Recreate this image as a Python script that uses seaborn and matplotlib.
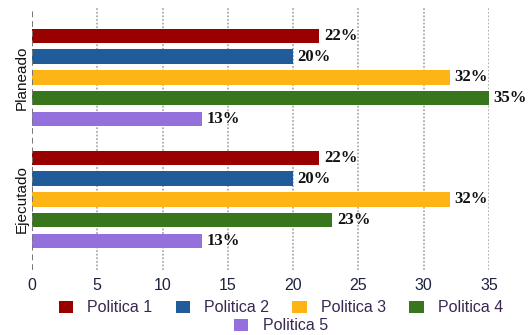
import matplotlib
matplotlib.use("Agg")
import matplotlib.pyplot as plt
from matplotlib.patches import Patch
import seaborn as sns
import pandas as pd

grupos = ["Planeado", "Ejecutado"]
politicas = ["Politica 1", "Politica 2", "Politica 3", "Politica 4", "Politica 5"]
planeado = [22, 20, 32, 35, 13]
ejecutado = [22, 20, 32, 23, 13]
colores = ["#990000", "#1f5c99", "#fdb515", "#38761d", "#9370db"]
x_ticks = [0, 5, 10, 15, 20, 25, 30, 35]

rows = []
for g, vals in zip(grupos, [planeado, ejecutado]):
    for p, v in zip(politicas, vals):
        rows.append({"grupo": g, "politica": p, "valor": v})
df = pd.DataFrame(rows)

sns.set_theme(style="white")
plt.rcParams["font.family"] = ["Liberation Sans", "DejaVu Sans"]

fig = plt.figure(figsize=(5.28, 3.35), dpi=100)
ax = fig.add_axes([32 / 528, 1 - 270 / 335, 457 / 528, 262 / 335])

sns.barplot(data=df, y="grupo", x="valor", hue="politica", order=grupos,
            hue_order=politicas, palette=colores, orient="h", width=0.85,
            gap=0.3, dodge=True, legend=False, ax=ax, errorbar=None,
            edgecolor="none", saturation=1)

ax.set_xlim(0, 35)
ax.set_ylim(1.58, -0.57)
ax.set_xticks(x_ticks)
ax.set_xticklabels([str(t) for t in x_ticks], fontsize=11.5, color="#1c2240")
ax.tick_params(axis="x", length=0, pad=6)
ax.tick_params(axis="y", length=0, pad=2)
for lab in ax.get_yticklabels():
    lab.set_rotation(90)
    lab.set_va("center")
    lab.set_fontsize(11)
    lab.set_color("#111111")
ax.set_xlabel("")
ax.set_ylabel("")
for s in ax.spines.values():
    s.set_visible(False)

for t in x_ticks[1:]:
    ax.axvline(t, color="#adadad", linestyle=(0, (1, 1)), linewidth=1.3, zorder=0)
ax.axvline(0, color="#777777", linestyle=(0, (3, 2)), linewidth=1.4, zorder=3)

for cont in ax.containers:
    for bar in cont:
        w = bar.get_width()
        ax.text(w + 0.35, bar.get_y() + bar.get_height() / 2, f"{w:.0f}%",
                ha="left", va="center", fontsize=12, fontweight="bold",
                family=["Liberation Serif", "DejaVu Serif"], color="#111111",
                clip_on=False)

handles = [Patch(facecolor=c, edgecolor="none") for c in colores]
leg_kw = dict(frameon=False, fontsize=11.5, handlelength=0.9, handleheight=0.8,
              handletextpad=0.9, labelcolor="#3a2850", borderpad=0)
fig.legend(handles[:4], politicas[:4], loc="center", ncol=4,
           bbox_to_anchor=(281 / 528, 1 - 308 / 335), columnspacing=1.45,
           **leg_kw)
fig.legend(handles[4:], politicas[4:], loc="center", ncol=1,
           bbox_to_anchor=(281 / 528, 1 - 326 / 335), **leg_kw)

fig.savefig("out.png", dpi=100)
